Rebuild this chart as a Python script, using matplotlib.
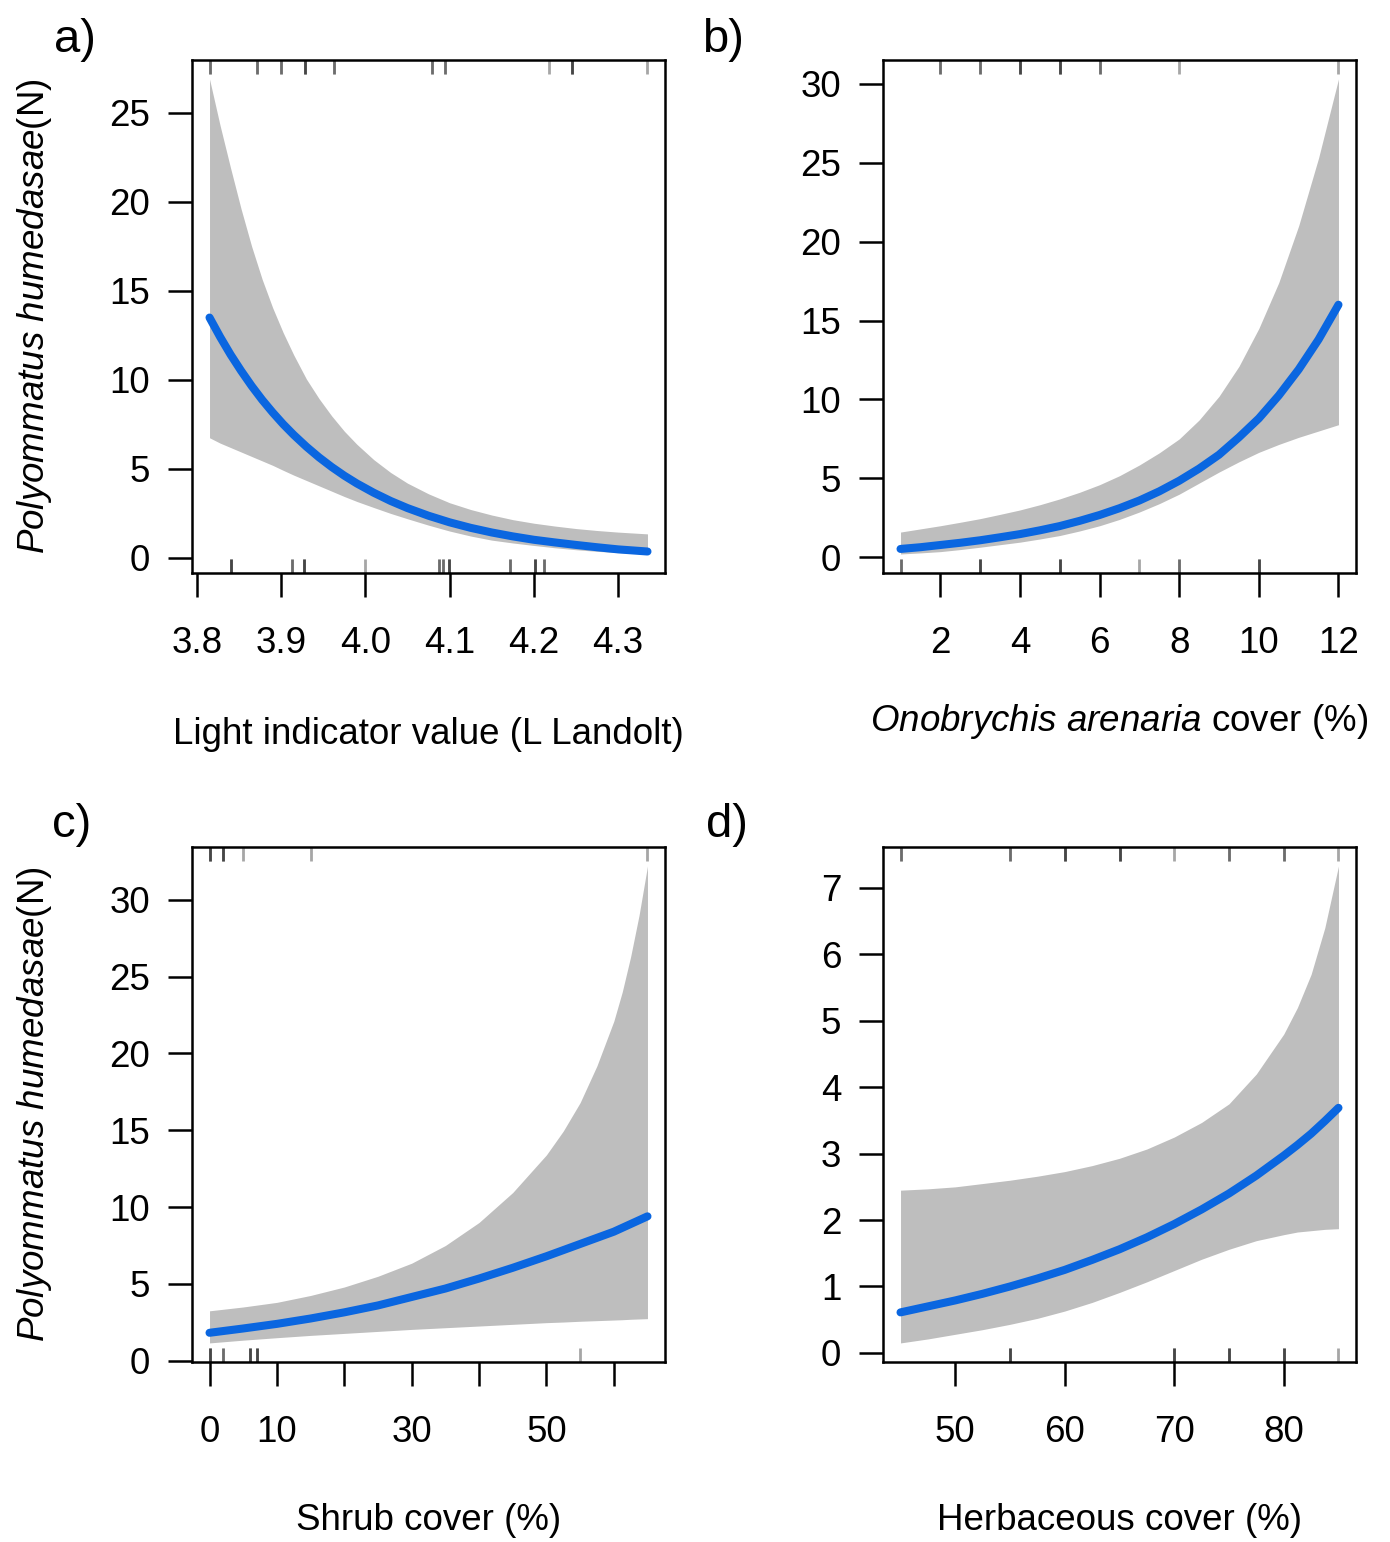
import matplotlib
matplotlib.use('Agg')
import matplotlib.pyplot as plt

plt.rcParams['font.family'] = ['Liberation Sans', 'DejaVu Sans']
plt.rcParams['mathtext.fontset'] = 'custom'
plt.rcParams['mathtext.it'] = 'Liberation Sans:italic'
plt.rcParams['mathtext.rm'] = 'Liberation Sans'

# ---------------- Panel a: light indicator value ----------------
a_x = [3.815, 3.8275, 3.84, 3.8525, 3.865, 3.8775, 3.89, 3.9025, 3.915, 3.93, 3.945, 3.96,
       3.975, 3.99, 4.01, 4.03, 4.05, 4.075, 4.1, 4.125, 4.15, 4.175, 4.2, 4.225, 4.25,
       4.275, 4.3, 4.335]
a_fit = [13.5, 12.42, 11.42, 10.51, 9.66, 8.88, 8.17, 7.51, 6.91, 6.25, 5.65, 5.11,
         4.62, 4.18, 3.66, 3.20, 2.80, 2.37, 2.00, 1.69, 1.43, 1.21, 1.02, 0.87, 0.73,
         0.60, 0.48, 0.36]
a_upr = [26.9, 24.3, 21.9, 19.6, 17.5, 15.65, 14.05, 12.65, 11.4, 10.05, 8.95, 7.98,
         7.12, 6.38, 5.52, 4.8, 4.2, 3.6, 3.1, 2.72, 2.41, 2.15, 1.95, 1.79, 1.65,
         1.54, 1.45, 1.35]
a_lwr = [6.75, 6.45, 6.2, 5.95, 5.7, 5.45, 5.2, 4.92, 4.65, 4.35, 4.05, 3.75,
         3.45, 3.17, 2.83, 2.5, 2.2, 1.84, 1.51, 1.23, 1.0, 0.84, 0.7, 0.57, 0.46,
         0.37, 0.3, 0.22]
a_rug_top = [3.815, 3.815, 3.871, 3.871, 3.90, 3.90, 3.928, 3.928, 3.928, 3.963, 3.963,
             4.079, 4.079, 4.0945, 4.0945, 4.218, 4.245, 4.245, 4.245, 4.335]
a_rug_bottom = [3.840, 3.840, 3.840, 3.9125, 3.9125, 3.9275, 3.9275, 3.9275, 4.000,
                4.087, 4.087, 4.0925, 4.0925, 4.0997, 4.0997, 4.0997, 4.1717, 4.1717,
                4.2014, 4.2014, 4.2014, 4.2125, 4.2125]
a_xticks = [3.8, 3.9, 4.0, 4.1, 4.2, 4.3]
a_xticklabels = ['3.8', '3.9', '4.0', '4.1', '4.2', '4.3']
a_yticks = [0, 5, 10, 15, 20, 25]

# ---------------- Panel b: Onobrychis arenaria cover ----------------
b_x = [1, 1.5, 2, 2.5, 3, 3.5, 4, 4.5, 5, 5.5, 6, 6.5, 7, 7.5, 8, 8.5, 9, 9.5, 10,
       10.5, 11, 11.5, 12]
b_fit = [0.53, 0.64, 0.78, 0.92, 1.08, 1.27, 1.47, 1.71, 1.98, 2.31, 2.68, 3.11, 3.6,
         4.18, 4.85, 5.62, 6.5, 7.6, 8.8, 10.25, 11.9, 13.8, 16.0]
b_upr = [1.6, 1.8, 2.0, 2.22, 2.45, 2.72, 3.0, 3.33, 3.7, 4.12, 4.6, 5.17, 5.85,
         6.62, 7.5, 8.7, 10.2, 12.1, 14.5, 17.4, 21.0, 25.3, 30.3]
b_lwr = [0.21, 0.28, 0.36, 0.49, 0.64, 0.8, 0.96, 1.16, 1.38, 1.67, 2.0, 2.4, 2.87,
         3.4, 4.0, 4.7, 5.4, 6.05, 6.65, 7.15, 7.6, 8.0, 8.4]
b_rug_top = [2, 2, 3, 3, 4, 4, 4, 5, 5, 5, 6, 6, 8, 12]
b_rug_bottom = [1, 1, 3, 3, 3, 5, 5, 5, 7, 8, 8, 10, 10, 10]
b_xticks = [2, 4, 6, 8, 10, 12]
b_xticklabels = ['2', '4', '6', '8', '10', '12']
b_yticks = [0, 5, 10, 15, 20, 25, 30]

# ---------------- Panel c: shrub cover ----------------
c_x = [0, 5, 10, 15, 20, 25, 30, 35, 40, 45, 50, 52.5, 55, 57.5, 60, 61.25, 62.5,
       63.75, 65]
c_fit = [1.82, 2.1, 2.4, 2.75, 3.15, 3.6, 4.15, 4.7, 5.35, 6.05, 6.8, 7.2, 7.6, 8.0,
         8.4, 8.65, 8.9, 9.15, 9.4]
c_upr = [3.25, 3.5, 3.8, 4.25, 4.8, 5.5, 6.35, 7.5, 9.0, 10.95, 13.4, 14.95, 16.8,
         19.2, 22.1, 24.0, 26.3, 29.0, 32.2]
c_lwr = [1.16, 1.34, 1.5, 1.65, 1.78, 1.91, 2.04, 2.15, 2.26, 2.37, 2.48, 2.52, 2.57,
         2.61, 2.65, 2.67, 2.7, 2.72, 2.74]
c_rug_top = [0, 0, 0, 2, 2, 2, 5, 15, 65]
c_rug_bottom = [0, 0, 0, 2, 2, 6, 6, 6, 7, 7, 7, 55]
c_xticks = [0, 10, 20, 30, 40, 50, 60]
c_xticklabels = ['0', '10', '', '30', '', '50', '']
c_yticks = [0, 5, 10, 15, 20, 25, 30]

# ---------------- Panel d: herbaceous cover ----------------
d_x = [45, 47.5, 50, 52.5, 55, 57.5, 60, 62.5, 65, 67.5, 70, 72.5, 75, 77.5, 80,
       81.25, 82.5, 83.75, 85]
d_fit = [0.61, 0.70, 0.79, 0.89, 1.0, 1.12, 1.25, 1.4, 1.56, 1.74, 1.94, 2.16, 2.4,
         2.67, 2.97, 3.13, 3.3, 3.49, 3.69]
d_upr = [2.45, 2.47, 2.5, 2.55, 2.6, 2.66, 2.73, 2.82, 2.93, 3.07, 3.25, 3.47, 3.75,
         4.2, 4.8, 5.2, 5.7, 6.4, 7.33]
d_lwr = [0.15, 0.21, 0.28, 0.35, 0.43, 0.52, 0.63, 0.76, 0.91, 1.07, 1.24, 1.41, 1.56,
         1.69, 1.78, 1.82, 1.84, 1.86, 1.87]
d_rug_top = [45, 45, 55, 55, 60, 60, 60, 65, 65, 65, 70, 75, 75, 80, 80, 85]
d_rug_bottom = [55, 55, 55, 70, 70, 70, 75, 75, 75, 80, 80, 80, 85]
d_xticks = [50, 60, 70, 80]
d_xticklabels = ['50', '60', '70', '80']
d_yticks = [0, 1, 2, 3, 4, 5, 6, 7]

W, H = 1390, 1542
fig = plt.figure(figsize=(W / 100, H / 100), dpi=100)

FS = 26.5
BAND = '#BEBEBE'
LINE = '#0A66E0'


def px_axes(left, right, top, bottom):
    return fig.add_axes([left / W, 1 - bottom / H, (right - left) / W, (bottom - top) / H])


def panel(ax, x, fit, lwr, upr, rug_top, rug_bottom, xticks, xticklabels, yticks,
          xlabel, xlabel_y, ylabel=None):
    ax.fill_between(x, lwr, upr, color=BAND, linewidth=0, zorder=1)
    ax.plot(x, fit, color=LINE, linewidth=5.8, solid_capstyle='round',
            solid_joinstyle='round', zorder=3)
    xr = max(x) - min(x)
    ax.set_xlim(min(x) - 0.04 * xr, max(x) + 0.04 * xr)
    ylo, yhi = min(lwr), max(upr)
    yr = yhi - ylo
    ax.set_ylim(ylo - 0.04 * yr, yhi + 0.04 * yr)
    tr = ax.get_xaxis_transform()
    ax.vlines(rug_top, 0.972, 1.0, transform=tr, color='black', alpha=0.35, linewidth=2.0, zorder=4)
    ax.vlines(rug_bottom, 0.0, 0.028, transform=tr, color='black', alpha=0.35, linewidth=2.0, zorder=4)
    ax.set_xticks(xticks)
    ax.set_xticklabels(xticklabels)
    ax.set_yticks(yticks)
    ax.set_yticklabels([str(v) for v in yticks])
    ax.tick_params(axis='x', direction='out', length=17, width=1.8, pad=21, labelsize=FS)
    ax.tick_params(axis='y', direction='out', length=17, width=1.8, pad=13, labelsize=FS)
    for s in ax.spines.values():
        s.set_linewidth(1.8)
    ax.set_xlabel(xlabel, fontsize=FS)
    ax.xaxis.label.set_va('center')
    ax.xaxis.set_label_coords(0.5, xlabel_y)
    if ylabel is not None:
        ax.set_ylabel(ylabel, fontsize=FS)
        ax.yaxis.label.set_va('center')
        ax.yaxis.label.set_ha('center')
        ax.yaxis.set_label_coords(-0.334, 0.5)


ylab = r'$\mathit{Polyommatus\ humedasae}$(N)'

axa = px_axes(192, 665, 60, 573)
panel(axa, a_x, a_fit, a_lwr, a_upr, a_rug_top, a_rug_bottom, a_xticks, a_xticklabels,
      a_yticks, 'Light indicator value (L Landolt)', (573 - 735) / 513, ylab)

axb = px_axes(883, 1356, 60, 573)
panel(axb, b_x, b_fit, b_lwr, b_upr, b_rug_top, b_rug_bottom, b_xticks, b_xticklabels,
      b_yticks, r'$\mathit{Onobrychis\ arenaria}$ cover (%)', (573 - 722) / 513)

axc = px_axes(192, 665, 847, 1362)
panel(axc, c_x, c_fit, c_lwr, c_upr, c_rug_top, c_rug_bottom, c_xticks, c_xticklabels,
      c_yticks, 'Shrub cover (%)', (1362 - 1520) / 515, ylab)

axd = px_axes(883, 1356, 847, 1362)
panel(axd, d_x, d_fit, d_lwr, d_upr, d_rug_top, d_rug_bottom, d_xticks, d_xticklabels,
      d_yticks, 'Herbaceous cover (%)', (1362 - 1520) / 515)

for lab, (px, py) in zip(['a)', 'b)', 'c)', 'd)'], [(75, 40), (723, 40), (72, 825), (727, 825)]):
    fig.text(px / W, 1 - py / H, lab, fontsize=34, ha='center', va='center')

fig.savefig('out.png', dpi=100)
